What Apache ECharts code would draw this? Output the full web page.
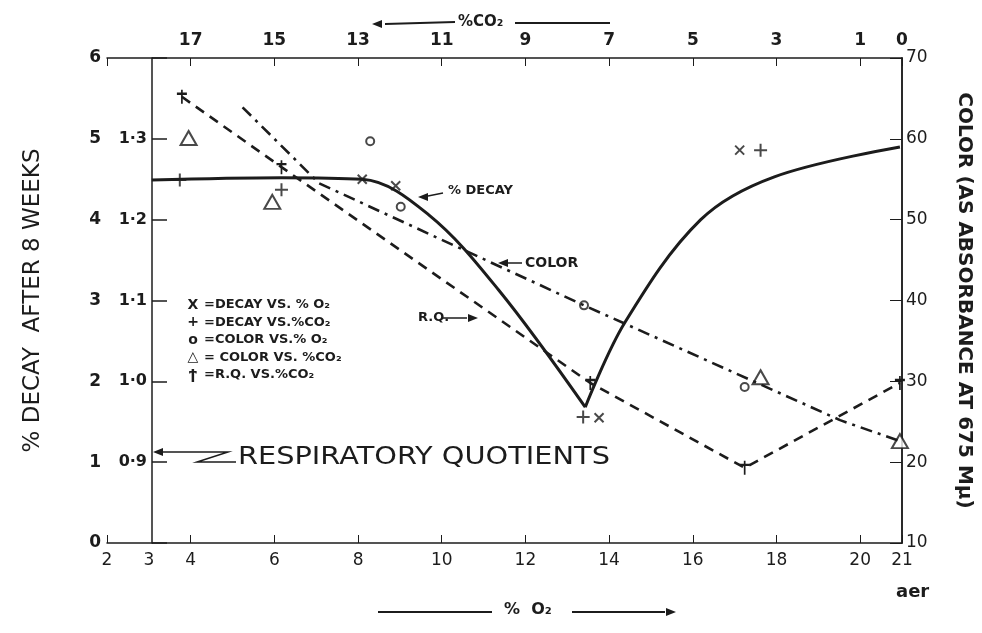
<!DOCTYPE html>
<html><head><meta charset="utf-8">
<script src="https://cdn.jsdelivr.net/npm/echarts@6/dist/echarts.min.js"></script>
<style>html,body{margin:0;padding:0;background:#fff}#c{width:982px;height:633px}</style>
</head><body><div id="c"></div>
<script>
// ---- data ----
// solid curve: % decay vs % O2 (two branches meeting at the minimum)
const curveLeftO2    = [3.07, 6.17, 8.10, 9.69, 11.36, 13.43];
const curveLeftDecay = [4.49, 4.52, 4.50, 4.06, 3.13, 1.68];
const curveRightO2    = [13.43, 14.38, 16.19, 17.95, 20.95];
const curveRightDecay = [1.68, 2.73, 4.00, 4.53, 4.90];
// X = decay vs % O2
const decayO2Pts   = [8.10, 8.90, 13.76, 17.12];
const decayO2Vals  = [4.50, 4.42, 1.55, 4.86];
// + = decay vs % CO2
const decayCO2Pts  = [17.26, 14.83, 7.62, 3.38];
const decayCO2Vals = [4.49, 4.37, 1.56, 4.86];
// o = color vs % O2
const colorO2Pts   = [8.29, 9.02, 13.40, 17.24];
const colorO2Vals  = [59.7, 51.6, 39.4, 29.3];
// triangle = color vs % CO2
const colorCO2Pts  = [17.05, 15.05, 3.38, 0.05];
const colorCO2Vals = [60.1, 52.2, 30.5, 22.6];
// dash-dot color line (vs % O2)
const colorLineO2   = [5.24, 7.07, 13.40, 19.52, 20.95];
const colorLineVals = [63.9, 54.5, 39.4, 25.2, 22.6];
// dashed R.Q. line vs % CO2
const rqCO2  = [17.21, 14.83, 7.45, 3.76, 0.05];
const rqVals = [1.352, 1.265, 0.998, 0.893, 0.998];
// tick labels
const topLabelsCO2 = [17, 15, 13, 11, 9, 7, 5, 3, 1, 0];
const rqLabels = [0.9, 1.0, 1.1, 1.2, 1.3];

const INK = '#1c1c1c';
const FONT = 'DejaVu Sans';
const zip = (a, b) => a.map((v, i) => [v, b[i]]);

const symX = 'path://M0,0L10,10M10,0L0,10';
const symPlus = 'path://M5,0L5,10M0,5L10,5';
const symRQ = 'path://M5,0L5,14M0,4L10,4';

const lbl = (size, bold) => ({color: INK, fontFamily: FONT, fontSize: size, fontWeight: bold ? 'bold' : 'normal'});

function arrowHead(x, y, dir) { // dir: -1 left, 1 right
  return {type: 'polygon', shape: {points: [[x, y], [x - dir * 10, y - 4], [x - dir * 10, y + 4]]}, style: {fill: INK}, silent: true};
}
function line(x1, y1, x2, y2, w) {
  return {type: 'line', shape: {x1, y1, x2, y2}, style: {stroke: INK, lineWidth: w || 1.5}, silent: true};
}
function text(x, y, t, size, bold, extra, props) {
  return Object.assign({type: 'text', x, y, style: Object.assign({text: t, fill: INK, font: (bold ? 'bold ' : '') + size + 'px "' + FONT + '"', verticalAlign: 'middle'}, extra || {}), silent: true}, props || {});
}

const legendRows = [
  ['X', '=DECAY VS. % O₂'],
  ['+', '=DECAY VS.%CO₂'],
  ['o', '=COLOR VS.% O₂'],
  ['△', '= COLOR VS. %CO₂'],
  ['ϯ', '=R.Q. VS.%CO₂']
];
const legendGraphics = [];
legendRows.forEach((r, i) => {
  const y = 305 + i * 17.5;
  legendGraphics.push(text(193, y, r[0], 14, true, {align: 'center'}));
  legendGraphics.push(text(204, y, r[1], 13, true));
});

const chart = echarts.init(document.getElementById('c'));
chart.setOption({
  backgroundColor: '#fff',
  animation: false,
  grid: {left: 107, right: 77, top: 58, bottom: 90},
  xAxis: [
    {type: 'value', position: 'bottom', min: 2, max: 21, interval: 2,
     axisLine: {show: true, lineStyle: {color: INK, width: 1.5}},
     axisTick: {show: true, inside: true, length: 8, lineStyle: {color: INK}},
     axisLabel: Object.assign(lbl(17, false), {margin: 9}), splitLine: {show: false}},
    {type: 'value', position: 'bottom', min: 2, max: 21, interval: 1,
     axisLine: {show: false}, axisTick: {show: false},
     axisLabel: Object.assign(lbl(17, false), {margin: 9, formatter: v => v === 3 ? '3' : ''}), splitLine: {show: false}},
    {type: 'value', position: 'top', min: 0, max: 19, inverse: true, interval: 1,
     axisLine: {show: true, lineStyle: {color: INK, width: 1.5}},
     axisTick: {show: false},
     axisLabel: Object.assign(lbl(17, true), {margin: 9, formatter: v => topLabelsCO2.indexOf(v) >= 0 ? String(v) : ''}),
     splitLine: {show: false}},
    {type: 'value', position: 'top', min: 2, max: 21, interval: 2,
     axisLine: {show: false},
     axisTick: {show: true, inside: true, length: 8, lineStyle: {color: INK}},
     axisLabel: {show: false}, splitLine: {show: false}}
  ],
  yAxis: [
    {type: 'value', position: 'left', min: 0, max: 6, interval: 1,
     name: '% DECAY  AFTER 8 WEEKS', nameLocation: 'middle', nameGap: 62, nameRotate: 90,
     nameTextStyle: {color: INK, fontFamily: FONT, fontSize: 23},
     axisLine: {show: true, lineStyle: {color: INK, width: 1.5}},
     axisTick: {show: false},
     axisLabel: Object.assign(lbl(17, true), {margin: 6}), splitLine: {show: false}},
    {type: 'value', position: 'left', offset: -45, min: 0.8, max: 1.4, interval: 0.1,
     axisLine: {show: true, lineStyle: {color: INK, width: 1.5}},
     axisTick: {show: true, inside: true, length: 15, lineStyle: {color: INK, width: 1.5}},
     axisLabel: Object.assign(lbl(16, true), {margin: 5, formatter: v => {
        const r = Math.round(v * 10) / 10;
        return rqLabels.indexOf(r) >= 0 ? r.toFixed(1).replace('.', '·') : '';
     }}), splitLine: {show: false}},
    {type: 'value', position: 'right', min: 10, max: 70, interval: 10,
     name: 'COLOR (AS ABSORBANCE AT 675 Mμ)', nameLocation: 'middle', nameGap: 52, nameRotate: -90,
     nameTextStyle: {color: INK, fontFamily: FONT, fontSize: 20, fontWeight: 'bold'},
     axisLine: {show: true, lineStyle: {color: INK, width: 1.5}},
     axisTick: {show: true, inside: true, length: 12, lineStyle: {color: INK}},
     axisLabel: Object.assign(lbl(17, false), {margin: 4}), splitLine: {show: false}}
  ],
  series: [
    {name: 'decay-left', type: 'line', xAxisIndex: 0, yAxisIndex: 0, data: zip(curveLeftO2, curveLeftDecay),
     smooth: 0.35, showSymbol: false, lineStyle: {color: INK, width: 3}},
    {name: 'decay-right', type: 'line', xAxisIndex: 0, yAxisIndex: 0, data: zip(curveRightO2, curveRightDecay),
     smooth: 0.35, showSymbol: false, lineStyle: {color: INK, width: 3}},
    {name: 'color-line', type: 'line', xAxisIndex: 0, yAxisIndex: 2, data: zip(colorLineO2, colorLineVals),
     showSymbol: false, lineStyle: {color: INK, width: 2.6, type: [12, 6, 3, 6]}},
    {name: 'rq', type: 'line', xAxisIndex: 2, yAxisIndex: 1, data: zip(rqCO2, rqVals),
     symbol: symRQ, symbolSize: [10, 14], showSymbol: true,
     itemStyle: {color: 'rgba(0,0,0,0)', borderColor: INK, borderWidth: 2},
     lineStyle: {color: INK, width: 2.6, type: [10, 7]}},
    {name: 'decay-o2', type: 'scatter', xAxisIndex: 0, yAxisIndex: 0, data: zip(decayO2Pts, decayO2Vals),
     symbol: symX, symbolSize: 9, itemStyle: {color: 'rgba(0,0,0,0)', borderColor: INK, borderWidth: 2}},
    {name: 'decay-co2', type: 'scatter', xAxisIndex: 2, yAxisIndex: 0, data: zip(decayCO2Pts, decayCO2Vals),
     symbol: symPlus, symbolSize: 13, itemStyle: {color: 'rgba(0,0,0,0)', borderColor: INK, borderWidth: 2}},
    {name: 'color-o2', type: 'scatter', xAxisIndex: 0, yAxisIndex: 2, data: zip(colorO2Pts, colorO2Vals),
     symbol: 'emptyCircle', symbolSize: 8, itemStyle: {color: INK, borderColor: INK, borderWidth: 1.8}},
    {name: 'color-co2', type: 'scatter', xAxisIndex: 2, yAxisIndex: 2, data: zip(colorCO2Pts, colorCO2Vals),
     symbol: 'emptyTriangle', symbolSize: [16, 14], itemStyle: {color: INK, borderColor: INK, borderWidth: 2}}
  ],
  graphic: [
    // top axis title
    text(458, 22, '%CO₂', 15, true),
    line(385, 24, 455, 22, 2), arrowHead(372, 24, -1),
    line(515, 23, 610, 23, 2),
    // bottom axis title
    line(378, 612, 492, 612, 2),
    text(504, 610, '%  O₂', 16, true),
    line(572, 612, 665, 612, 2), arrowHead(676, 612, 1),
    // annotations
    text(448, 191, '% DECAY', 13, true), line(443, 193, 428, 196, 1.5), arrowHead(418, 197, -1),
    text(525, 263, 'COLOR', 14, true), line(522, 263, 508, 263, 1.5), arrowHead(498, 263, -1),
    text(418, 318, 'R.Q.', 13, true), line(443, 318, 467, 318, 1.5), arrowHead(478, 318, 1),
    text(238, 458, 'RESPIRATORY QUOTIENTS', 24, false, {}, {scaleX: 1.2}),
    {type: 'polyline', shape: {points: [[236, 462], [197, 462], [228, 452], [163, 452]]}, style: {stroke: INK, lineWidth: 1.5, fill: null}, silent: true},
    arrowHead(153, 452, -1),
    text(896, 592, 'aer', 18, true, {fontStyle: 'italic'})
  ].concat(legendGraphics)
});
</script></body></html>
